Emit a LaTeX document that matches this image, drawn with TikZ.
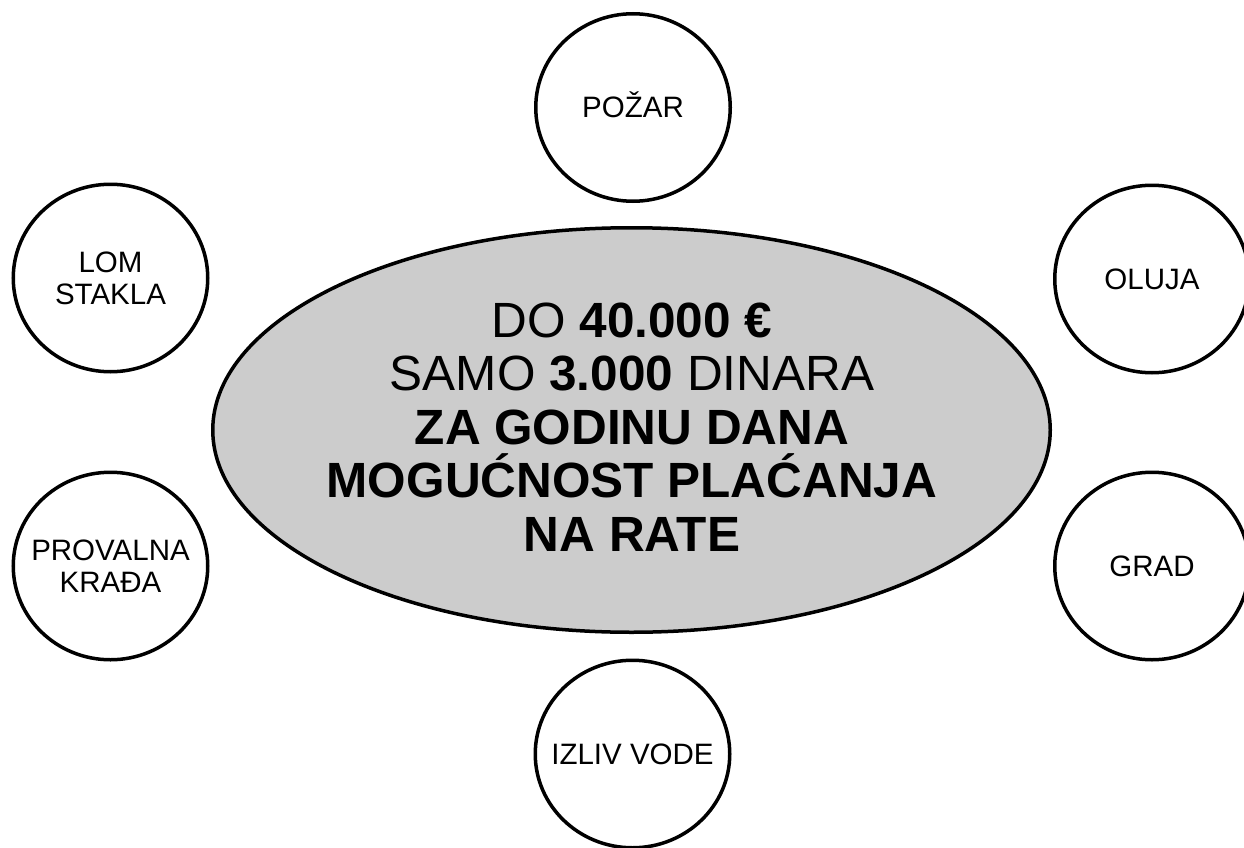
\documentclass[tikz,border=0pt]{standalone}
\usepackage{fontspec}
\setmainfont{Liberation Sans}
\usetikzlibrary{shapes.geometric}
\definecolor{ellfill}{HTML}{CCCCCC}
\tikzset{
  bubble/.style={draw=black, line width=3.5pt, ellipse, fill=white,
    minimum width=194.5pt, minimum height=187.5pt, inner sep=0pt},
  bubbletxt/.style={inner sep=0pt, align=center,
    font=\fontsize{29.5}{32}\selectfont},
  mainell/.style={draw=black, line width=3.5pt, ellipse, fill=ellfill,
    minimum width=837.5pt, minimum height=404.5pt, inner sep=0pt},
  maintxt/.style={inner sep=0pt, align=center,
    font=\fontsize{49.5}{53.5}\selectfont}
}
\begin{document}
\begin{tikzpicture}[x=1pt,y=-1pt]
\useasboundingbox[fill=white] (0,0) rectangle (1244,848);
\node[mainell] (main) at (631.5,430) {};
\node[maintxt] (maintext) at (632,427) {DO \textbf{40.000 €}\\SAMO \textbf{3.000} DINARA\\\textbf{ZA GODINU DANA}\\\textbf{MOGUĆNOST PLAĆANJA}\\\textbf{NA RATE}};
\node[bubble] (pozar) at (633,107.5) {};
\node[bubbletxt, text height=21.1pt] (pozartxt) at (pozar) {POŽAR};
\node[bubble] (lom) at (110.5,278) {};
\node[bubbletxt] (lomtxt) at (lom) {LOM\\STAKLA};
\node[bubble] (oluja) at (1152,279) {};
\node[bubbletxt] (olujatxt) at (oluja) {OLUJA};
\node[bubble] (provalna) at (110.5,566) {};
\node[bubbletxt] (provalnatxt) at (provalna) {PROVALNA\\KRAĐA};
\node[bubble] (grad) at (1152,566) {};
\node[bubbletxt] (gradtxt) at (grad) {GRAD};
\node[bubble] (izliv) at (632.5,754) {};
\node[bubbletxt] (izlivtxt) at (izliv) {IZLIV VODE};
\end{tikzpicture}
\end{document}
